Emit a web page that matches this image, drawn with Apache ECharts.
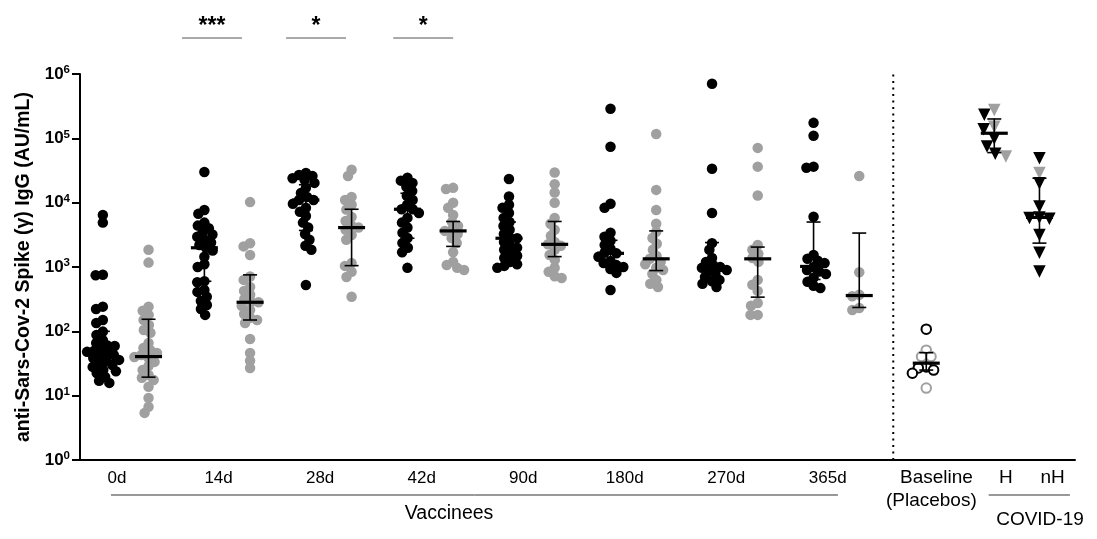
<!DOCTYPE html>
<html><head><meta charset="utf-8">
<script src="https://cdn.jsdelivr.net/npm/echarts@6/dist/echarts.min.js"></script>
<style>html,body{margin:0;padding:0;background:#fff}#c{width:1097px;height:539px}</style>
</head><body><div id="c"></div>
<script>
// ---------------- DATA ----------------
const timepoints = ['0d','14d','28d','42d','90d','180d','270d','365d'];
// black = first vaccinee group, gray = second vaccinee group (AU/mL)
const black0d  = [6450,4900,760,745,242,222,150,135,99,88,73,66,60,59,53,50,48,45,43,40,38.6,36,34.7,31,30,28,25,24,22.5,19.5,17,15.8];
const gray0d   = [1850,1170,242,208,180,150,126,105,95,66,55,51,46,43,40,38.6,33.5,29,25,21,19,17.5,13.8,9.2,6.7,5.4];
const black14d = [30000,7700,6700,4900,4400,4000,3500,3200,2950,2650,2400,2200,1990,1800,1440,1100,1000,600,580,440,410,345,297,257,222,180];
const gray14d  = [10200,2340,2090,1540,710,630,490,425,370,318,287,283,250,215,186,162,150,135,76,46,35,27];
const black28d = [29000,27000,26000,24000,22500,20300,17000,14100,12300,11000,11000,9600,8300,7200,6200,4900,4100,3250,2650,2140,1850,525];
const gray28d  = [32500,26000,12300,11000,9300,7800,6000,5200,4400,4100,3800,3150,2650,1150,1040,840,700,345];
const black42d = [24400,22000,20300,17700,15200,12800,11000,9300,7900,7900,6900,5800,4900,4100,3400,2830,2360,1990,1700,970];
const gray42d  = [17000,16300,10000,8300,6450,5000,4350,3800,3640,3250,2830,2360,1700,1200,1070,970,900];
const black90d = [23400,12500,9300,8300,6900,5800,5000,4350,3800,3250,2830,2800,2450,2140,2000,1850,1600,1500,1380,1200,1100,1040,970];
const gray90d  = [29500,19400,14400,10000,5800,4700,3800,3050,2450,2250,2140,1850,1540,1290,970,840,720,675];
const black180d = [288000,74000,9600,8300,3400,2950,2560,2200,1900,1660,1630,1440,1240,1150,1070,1000,930,810,440];
const gray180d  = [117000,15800,7700,4700,3530,2830,2300,1850,1480,1340,1200,1100,970,900,780,630,550,490];
const black270d = [705000,33600,6900,2350,1850,1380,1200,1070,1000,970,900,870,780,700,630,600,550,490];
const gray270d  = [71000,36300,12900,2200,1850,1600,1380,1200,630,530,425,275,250,180,180];
const black365d = [174000,110000,36300,35000,6050,1540,1340,1250,1150,1000,900,850,780,680,590,510,470];
const gray365d  = [26000,830,370,350,230,215];
const blackVals = [black0d,black14d,black28d,black42d,black90d,black180d,black270d,black365d];
const grayVals  = [gray0d,gray14d,gray28d,gray42d,gray90d,gray180d,gray270d,gray365d];
// [median, lower, upper]
const blackStats = [[52,30,100],[1990,600,4200],[11000,3700,19000],[7900,2800,14000],[2800,1600,5000],[1630,1000,2600],[1000,700,2400],[1020,640,5000]];
const grayStats  = [[40.5,19.4,154],[283,150,755],[4100,1050,7900],[3640,2090,5100],[2250,1450,5100],[1340,880,3640],[1340,340,2040],[360,235,3370]];
// Baseline (placebos) open circles, COVID-19 H / nH triangles
const baselineBlack = [108,28,27,25,22.3];
const baselineGray  = [51,40.5,40.5,13.1];
const baselineStats = [32,25,46.5];
const hBlack  = [233000,138000,100000,74500,57500];
const hGray   = [275000,152000,52000];
const hStats  = [120000,60000,200000];
const nhBlack = [49000,20000,8700,5900,5800,5600,3150,1670,850];
const nhGray  = [29000];
const nhStats = [5900,2350,24000];
const sigLabels = ['***','*','*'];
const sigGroups = [1,2,3]; // index of timepoint compared

// ---------------- LAYOUT ----------------
const X_MAX = 19.6;
const BLACK = '#000', GRAY = '#a0a0a0';
const pairCenter = i => 0.9 + 2 * i;
const PAIR_OFF = 0.45;
const SIG_SHIFT = [-0.3, -0.25, -0.14];
const COL_BASE = 16.67, COL_H = 18.01, COL_NH = 18.9, DIVIDER_X = 16.02;
const FONT = 'Liberation Sans, Arial, sans-serif';
const LBL = 17, WORD = 19;

const chart = echarts.init(document.getElementById('c'));
chart.setOption({
  animation: false,
  grid: {left: 80, right: 22, top: 74, bottom: 79},
  xAxis: {type: 'value', min: 0, max: X_MAX,
    axisLine: {lineStyle: {color: '#000', width: 2}}, axisTick: {show: false},
    axisLabel: {show: false}, splitLine: {show: false}},
  yAxis: {type: 'log', logBase: 10, min: 1, max: 1e6,
    name: 'anti-Sars-Cov-2 Spike (γ) IgG (AU/mL)', nameLocation: 'middle', nameGap: 46,
    nameTextStyle: {fontSize: 19.5, fontWeight: 'bold', color: '#000', fontFamily: FONT},
    axisLine: {show: true, lineStyle: {color: '#000', width: 2}},
    axisTick: {show: true, length: 8, lineStyle: {color: '#000', width: 2}},
    minorTick: {show: false}, splitLine: {show: false},
    axisLabel: {margin: 10, color: '#000',
      formatter: v => '{b|10}{s|' + Math.round(Math.log10(v)) + '}',
      rich: {b: {fontSize: 17, fontWeight: 'bold', fontFamily: FONT, color: '#000', lineHeight: 20},
             s: {fontSize: 11.5, fontWeight: 'bold', fontFamily: FONT, color: '#000', verticalAlign: 'top', lineHeight: 12}}}
  },
  series: []
});

const px = v => chart.convertToPixel({xAxisIndex: 0}, v);
const py = v => chart.convertToPixel({yAxisIndex: 0}, v);
const pxPerUnit = px(1) - px(0);
const pxPerDecade = py(1) - py(10);

function swarm(vals, diam) {
  const arr = vals.map((v, idx) => ({idx, y: Math.log10(v) * pxPerDecade}));
  arr.sort((a, b) => b.y - a.y);
  const placed = [], out = new Array(vals.length);
  for (const p of arr) {
    const iv = [];
    for (const q of placed) {
      const dy = Math.abs(q.y - p.y);
      if (dy < diam) { const dx = Math.sqrt(diam * diam - dy * dy); iv.push([q.x - dx, q.x + dx]); }
    }
    const cands = [0];
    iv.forEach(([a, b]) => cands.push(a, b));
    cands.sort((a, b) => Math.abs(a) - Math.abs(b) || a - b);
    let x = 0;
    for (const c of cands) { if (iv.every(([a, b]) => c <= a + 1e-6 || c >= b - 1e-6)) { x = c; break; } }
    placed.push({x, y: p.y}); out[p.idx] = x;
  }
  return out;
}
function place(vals, cx, diam) {
  const offs = swarm(vals, diam);
  return vals.map((v, j) => [cx + offs[j] / pxPerUnit, v]);
}
function placeMixed(a, b, cx, diam) {
  const pts = place(a.concat(b), cx, diam);
  return [pts.slice(0, a.length), pts.slice(a.length)];
}

const blackData = [], grayData = [], statData = [];
blackVals.forEach((vals, i) => { blackData.push(...place(vals, pairCenter(i) - PAIR_OFF, 7.2)); statData.push([pairCenter(i) - PAIR_OFF, ...blackStats[i]]); });
grayVals.forEach((vals, i) => { grayData.push(...place(vals, pairCenter(i) + PAIR_OFF, 7.2)); statData.push([pairCenter(i) + PAIR_OFF, ...grayStats[i]]); });
const [baseB, baseG] = placeMixed(baselineBlack, baselineGray, COL_BASE, 8);
const [hB, hG] = placeMixed(hBlack, hGray, COL_H, 11);
const [nhB, nhG] = placeMixed(nhBlack, nhGray, COL_NH, 10);
statData.push([COL_BASE, ...baselineStats], [COL_H, ...hStats], [COL_NH, ...nhStats]);

function renderStat(params, api) {
  const x = api.value(0);
  const pm = api.coord([x, api.value(1)]);
  const pl = api.coord([x, api.value(2)]);
  const ph = api.coord([x, api.value(3)]);
  const hw = 13.5, cw = 7, st = {stroke: '#000', lineWidth: 1.6};
  return {type: 'group', children: [
    {type: 'line', shape: {x1: pm[0], y1: ph[1], x2: pm[0], y2: pl[1]}, style: st},
    {type: 'line', shape: {x1: pm[0] - cw, y1: ph[1], x2: pm[0] + cw, y2: ph[1]}, style: st},
    {type: 'line', shape: {x1: pm[0] - cw, y1: pl[1], x2: pm[0] + cw, y2: pl[1]}, style: st},
    {type: 'line', shape: {x1: pm[0] - hw, y1: pm[1], x2: pm[0] + hw, y2: pm[1]}, style: {stroke: '#000', lineWidth: 3.2}}
  ]};
}

const axisY = py(1);
const txt = (text, x, y, size, weight) => ({type: 'text', x, y, silent: true,
  style: {text, fill: '#000', fontSize: size, fontWeight: weight || 'normal', fontFamily: FONT, align: 'center', verticalAlign: 'middle'}});
const graphics = [];
timepoints.forEach((t, i) => graphics.push(txt(t, px(pairCenter(i) - 0.17), axisY + 18, LBL)));
graphics.push(txt('Baseline', px(COL_BASE + 0.2), axisY + 18, WORD));
graphics.push(txt('(Placebos)', px(COL_BASE + 0.1), axisY + 41, WORD));
graphics.push(txt('H', px(COL_H + 0.23), axisY + 18, WORD));
graphics.push(txt('nH', px(COL_NH + 0.26), axisY + 18, WORD));
graphics.push({type: 'line', silent: true, shape: {x1: px(0.61), y1: axisY + 35, x2: px(14.93), y2: axisY + 35}, style: {stroke: '#333', lineWidth: 1}});
graphics.push(txt('Vaccinees', px(7.27), axisY + 54, WORD + 0.5));
graphics.push({type: 'line', silent: true, shape: {x1: px(17.9), y1: axisY + 35, x2: px(19.5), y2: axisY + 35}, style: {stroke: '#333', lineWidth: 1}});
graphics.push(txt('COVID-19', px(18.91), axisY + 60, WORD));
sigGroups.forEach((g, k) => {
  const c = pairCenter(g) + SIG_SHIFT[k];
  graphics.push({type: 'line', silent: true, shape: {x1: px(c - 0.59), y1: 38, x2: px(c + 0.59), y2: 38}, style: {stroke: '#555', lineWidth: 1}});
  graphics.push(txt(sigLabels[k], px(c), 27, 23, 'bold'));
});

chart.setOption({
  graphic: graphics,
  series: [
    {type: 'line', data: [[DIVIDER_X, 1], [DIVIDER_X, 1e6]], symbol: 'none', silent: true,
     lineStyle: {color: '#000', width: 2, type: [2, 4.5]}, z: 1},
    {type: 'scatter', data: blackData, symbol: 'circle', symbolSize: 10.5, itemStyle: {color: BLACK, opacity: 1}, z: 2},
    {type: 'scatter', data: grayData, symbol: 'circle', symbolSize: 10.5, itemStyle: {color: GRAY, opacity: 1}, z: 2},
    {type: 'scatter', data: baseG, symbol: 'emptyCircle', symbolSize: 9.5, itemStyle: {color: GRAY, borderColor: GRAY, borderWidth: 2, opacity: 1}, z: 2},
    {type: 'scatter', data: baseB, symbol: 'emptyCircle', symbolSize: 9.5, itemStyle: {color: BLACK, borderColor: BLACK, borderWidth: 2, opacity: 1}, z: 2},
    {type: 'scatter', data: hG.concat(nhG), symbol: 'triangle', symbolRotate: 180, symbolSize: 12.5, itemStyle: {color: GRAY, opacity: 1}, z: 2},
    {type: 'scatter', data: hB.concat(nhB), symbol: 'triangle', symbolRotate: 180, symbolSize: 12.5, itemStyle: {color: BLACK, opacity: 1}, z: 2},
    {type: 'custom', data: statData, renderItem: renderStat, z: 3, silent: true}
  ]
});
</script></body></html>
